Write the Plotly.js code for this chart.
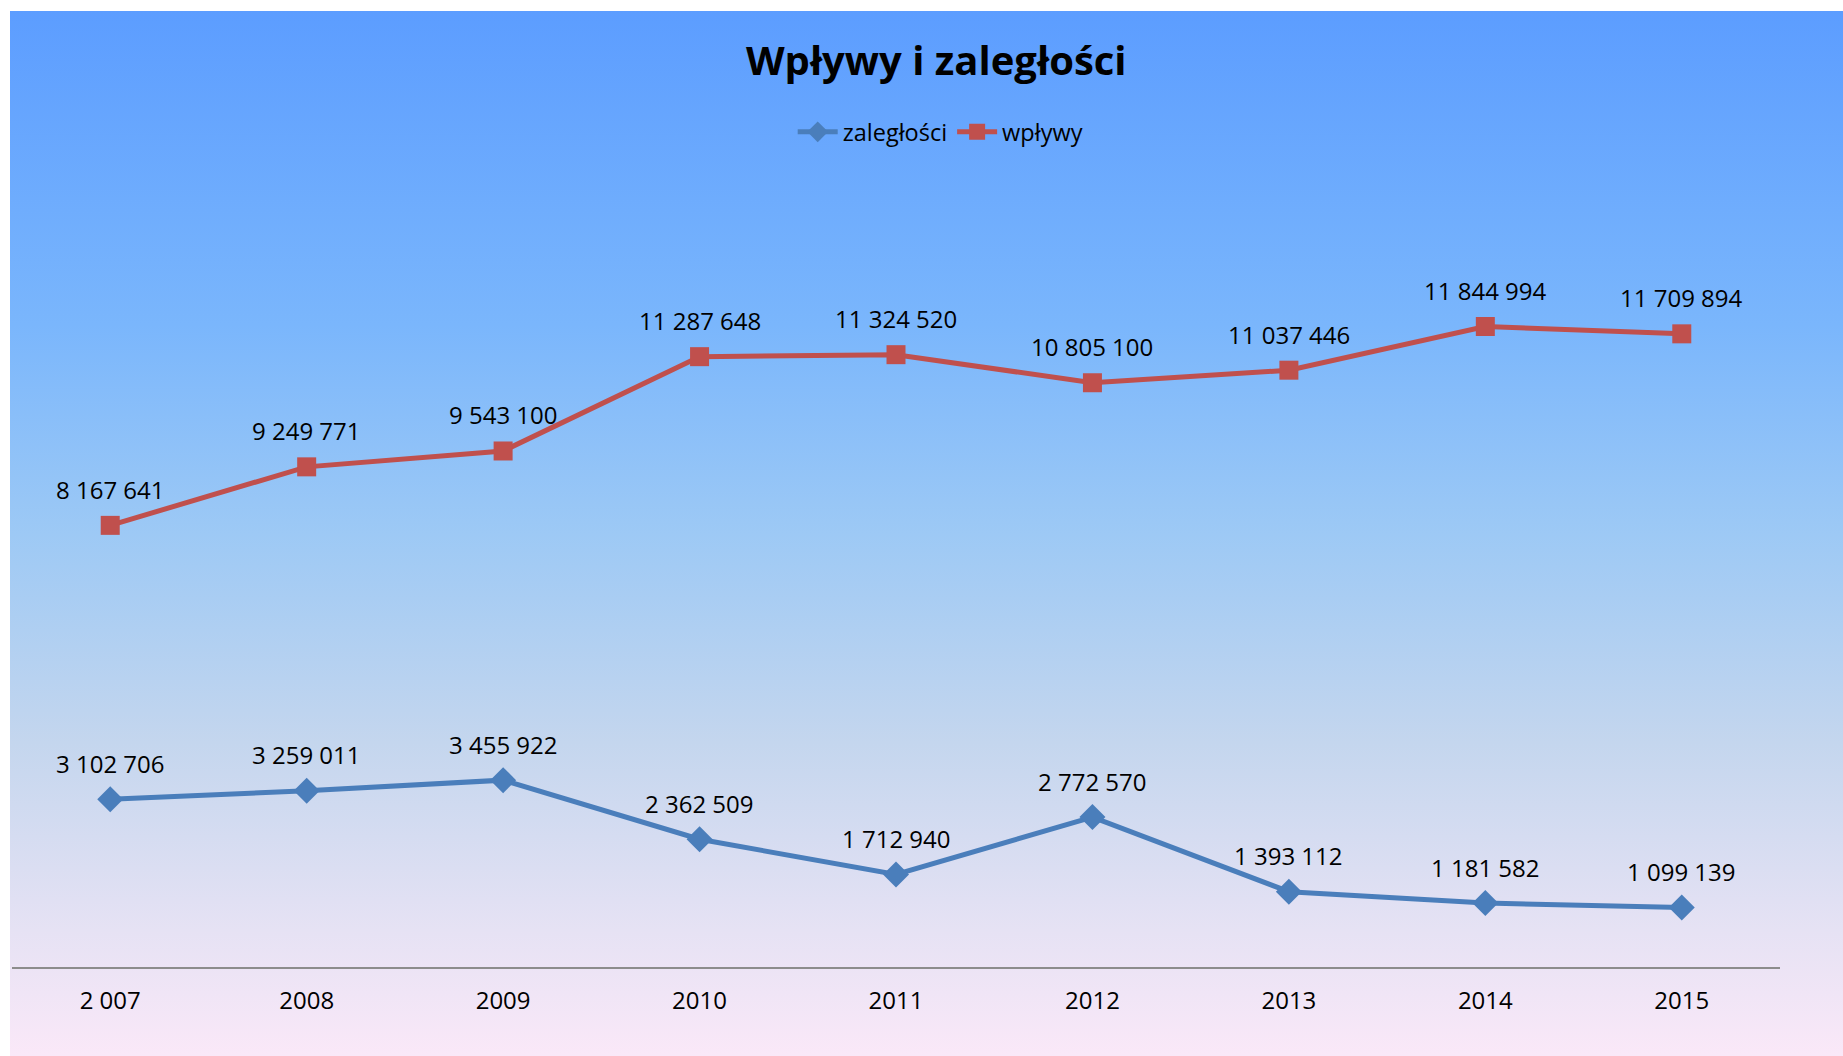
<!DOCTYPE html>
<html>
<head>
<meta charset="utf-8">
<script src="https://cdn.plot.ly/plotly-3.0.1.min.js"></script>
<style>
  html, body { margin: 0; padding: 0; background: #ffffff; }
  #bg { position: absolute; left: 10px; top: 11px; width: 1833px; height: 1045px;
        background: linear-gradient(to bottom, #5C9DFF 0%, #7AB6FC 30%, #9DC9F5 50%, #C4D6EE 70%, #E6E2F4 88%, #FAE8F8 100%); }
  #chart { position: absolute; left: 0; top: 0; width: 1843px; height: 1056px; }
</style>
</head>
<body>
<div id="bg"></div>
<div id="chart"></div>
<script>
const categories = ["2 007", "2008", "2009", "2010", "2011", "2012", "2013", "2014", "2015"];
const zaleglosci = [3102706, 3259011, 3455922, 2362509, 1712940, 2772570, 1393112, 1181582, 1099139];
const wplywy = [8167641, 9249771, 9543100, 11287648, 11324520, 10805100, 11037446, 11844994, 11709894];

function fmt(v) {
  return String(v).replace(/\B(?=(\d{3})+(?!\d))/g, " ");
}

const FONT = "'Open Sans', 'Noto Sans', sans-serif";
const BLUE = "#4A7EBB";
const RED = "#C0504D";

const traces = [
  { x: categories, y: zaleglosci, name: "zaległości", type: "scatter", mode: "lines+markers",
    line: { color: BLUE, width: 5 }, marker: { symbol: "diamond", size: 20, color: BLUE },
    hoverinfo: "skip" },
  { x: categories, y: wplywy, name: "wpływy", type: "scatter", mode: "lines+markers",
    line: { color: RED, width: 5 }, marker: { symbol: "square", size: 19, color: RED },
    hoverinfo: "skip" }
];

const annotations = [];
[zaleglosci, wplywy].forEach(function (series) {
  series.forEach(function (v, i) {
    annotations.push({ x: i, y: v, xref: "x", yref: "y", text: fmt(v),
      showarrow: false, yshift: 36, yanchor: "middle",
      font: { family: FONT, size: 24, color: "#000000" } });
  });
});

const layout = {
  width: 1843, height: 1056,
  paper_bgcolor: "rgba(0,0,0,0)", plot_bgcolor: "rgba(0,0,0,0)",
  margin: { l: 12, r: 63, t: 210, b: 89 },
  title: { text: "<b>Wpływy i zaległości</b>", x: 0.508, xanchor: "center", y: 0.942, yanchor: "middle",
           font: { family: FONT, size: 40, color: "#000000" } },
  showlegend: true,
  legend: { orientation: "h", x: 0.525, xanchor: "center", y: 1.103, yanchor: "middle",
            font: { family: FONT, size: 23.5, color: "#000000" }, bgcolor: "rgba(0,0,0,0)",
            itemwidth: 40, tracegroupgap: 0 },
  xaxis: { type: "category", range: [-0.5, 8.5], showgrid: false, zeroline: false,
           showline: true, linecolor: "#8C8C8C", linewidth: 2, ticks: "",
           ticklabelstandoff: 11,
           tickfont: { family: FONT, size: 24, color: "#000000" }, fixedrange: true },
  yaxis: { range: [0, 14000000], visible: false, showgrid: false, zeroline: false, fixedrange: true },
  annotations: annotations
};

Plotly.newPlot("chart", traces, layout, { displayModeBar: false, staticPlot: true });
</script>
</body>
</html>
